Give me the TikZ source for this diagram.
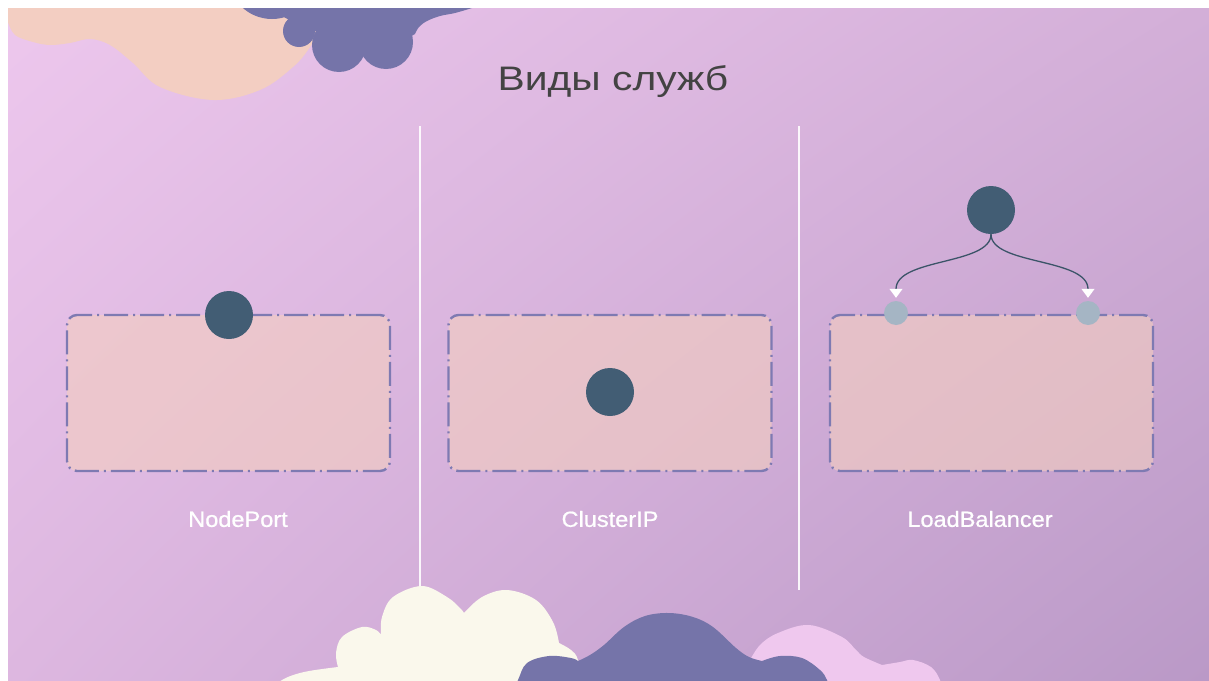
\documentclass[tikz,border=0pt]{standalone}
\usepackage{fontspec}
\setmainfont{Liberation Sans}
\newfontfamily\titlefont[FakeStretch=1.2]{Liberation Sans}
\newfontfamily\captionfont[FakeBold=0.8,FakeStretch=1.07]{Liberation Sans}
\usetikzlibrary{arrows.meta,shadings}

\definecolor{bgTL}{HTML}{EDC7ED}
\definecolor{bgTR}{HTML}{D3AFD8}
\definecolor{bgBL}{HTML}{DDB7E0}
\definecolor{bgBR}{HTML}{BA99C7}
\definecolor{peach}{HTML}{F3CEC2}
\definecolor{cloudpurple}{HTML}{7574A9}
\definecolor{cream}{HTML}{FAF8EC}
\definecolor{cloudpink}{HTML}{EFC8EE}
\definecolor{boxfill}{HTML}{F4CEBF}
\definecolor{boxline}{HTML}{7E7AB2}
\definecolor{darkdot}{HTML}{425D74}
\definecolor{lightdot}{HTML}{A5B5C4}
\definecolor{titlegray}{HTML}{434343}

\begin{document}
\begin{tikzpicture}[x=1pt,y=-1pt,
  nodebox/.style={draw=boxline, line width=2.4pt, fill=boxfill, fill opacity=0.6,
    draw opacity=1, rounded corners=10pt,
    dash pattern=on 24pt off 5pt on 2pt off 5pt,
    minimum width=323pt, minimum height=156pt, inner sep=0pt},
  bigdot/.style={circle, fill=darkdot, minimum size=48pt, inner sep=0pt},
  smalldot/.style={circle, fill=lightdot, minimum size=24pt, inner sep=0pt},
  caption/.style={text=white, font=\captionfont\fontsize{22}{26}\selectfont},
  divider/.style={draw=white, line width=1.3pt, opacity=0.9},
  link/.style={draw=darkdot!90!black, line width=1.3pt,
    -{Triangle[width=13pt,length=9pt,color=white]}, shorten >=3pt}
]
\useasboundingbox (0,0) rectangle (1209,680);
\fill[white] (0,0) rectangle (1209,680);
\shade[upper left=bgTL, upper right=bgTR, lower left=bgBL, lower right=bgBR]
  (8,8) rectangle (1209,680);

\begin{scope}
\clip (8,8) rectangle (1209,680);
% peach cloud, top left
\fill[peach] (0,0) -- (8,22) -- plot[smooth, tension=0.6] coordinates {
  (8,22) (15,35) (33,42) (50,45) (70,43) (90,39) (110,45) (133,63) (160,87)
  (213,100) (260,90) (293,67) (310,47) (322,25) (330,8)} -- (330,0) -- cycle;
% purple cloud, top
\begin{scope}[fill=cloudpurple]
  \fill (272,-25) circle[radius=44];
  \fill (299,31) circle[radius=16];
  \fill (339,45) circle[radius=27];
  \fill (386,42) circle[radius=27];
  \fill (260,0) -- (280,15) -- (299,25) -- (339,40) -- (386,38) -- (408,38)
    -- (415,34) -- plot[smooth, tension=0.6] coordinates {(415,34) (419,27) (427,21) (440,16) (455,13) (472,8)}
    -- (476,0) -- cycle;
\end{scope}
\end{scope}

% column dividers
\coordinate (d1top) at (420,126);
\coordinate (d1bot) at (420,592);
\coordinate (d2top) at (799,126);
\coordinate (d2bot) at (799,590);
\draw[divider] (d1top) -- (d1bot);
\draw[divider] (d2top) -- (d2bot);

% title
\node[text=titlegray, font=\titlefont\fontsize{34}{40}\selectfont] (title) at (613,82) {Виды служб};

% service boxes
\node[nodebox] (np) at (228.5,393) {};
\node[nodebox] (cip) at (610,393) {};
\node[nodebox] (lb) at (991.5,393) {};

% NodePort
\node[bigdot] (npdot) at (229,315) {};
% ClusterIP
\node[bigdot] (cipdot) at (610,392) {};
% LoadBalancer
\node[bigdot] (lbdot) at (991,210) {};
\node[smalldot] (lbl) at (896,313) {};
\node[smalldot] (lbr) at (1088,313) {};
\draw[link] (lbdot.south) .. controls +(0,31) and +(0,-43) .. (lbl.north);
\draw[link] (lbdot.south) .. controls +(0,31) and +(0,-43) .. (lbr.north);

% captions
\node[caption] (npcap) at (238,519) {NodePort};
\node[caption] (cipcap) at (610,519) {ClusterIP};
\node[caption] (lbcap) at (980,519) {LoadBalancer};

% clouds along the bottom
\begin{scope}
\clip (8,8) rectangle (1209,680);
\fill[cream] plot[smooth, tension=0.6] coordinates {(270,692) (282,680) (304,672) (338,667)}
  -- plot[smooth, tension=0.6] coordinates {(338,667) (336,653) (342,637) (362,627) (376,630) (381,635)}
  -- plot[smooth, tension=0.6] coordinates {(381,635) (382,617) (393,597) (422,586) (447,597) (460,608) (464,613)}
  -- plot[smooth, tension=0.6] coordinates {(464,613) (482,597) (507,590) (536,600) (553,622) (559,643)}
  -- plot[smooth, tension=0.6] coordinates {(559,643) (571,650) (578,660) (585,692)}
  -- cycle;
\fill[cloudpink] plot[smooth, tension=0.6] coordinates {(749,662) (760,645) (778,633) (809,625) (842,637) (856,650) (864,657) (882,665)}
  -- plot[smooth, tension=0.6] coordinates {(882,665) (900,662) (913,660) (931,667) (940,680) (942,692)}
  -- (749,692) -- cycle;
\fill[cloudpurple] plot[smooth, tension=0.6] coordinates {(512,692) (518,680) (527,663) (549,656) (571,658) (578,661)}
  -- plot[smooth, tension=0.6] coordinates {(578,661) (590,655) (604,645) (624,627) (645,616) (669,613) (693,617) (713,627) (736,648) (749,657) (762,661)}
  -- plot[smooth, tension=0.6] coordinates {(762,661) (780,656) (802,658) (820,670) (827,680) (830,692)}
  -- cycle;
\end{scope}
\end{tikzpicture}
\end{document}
